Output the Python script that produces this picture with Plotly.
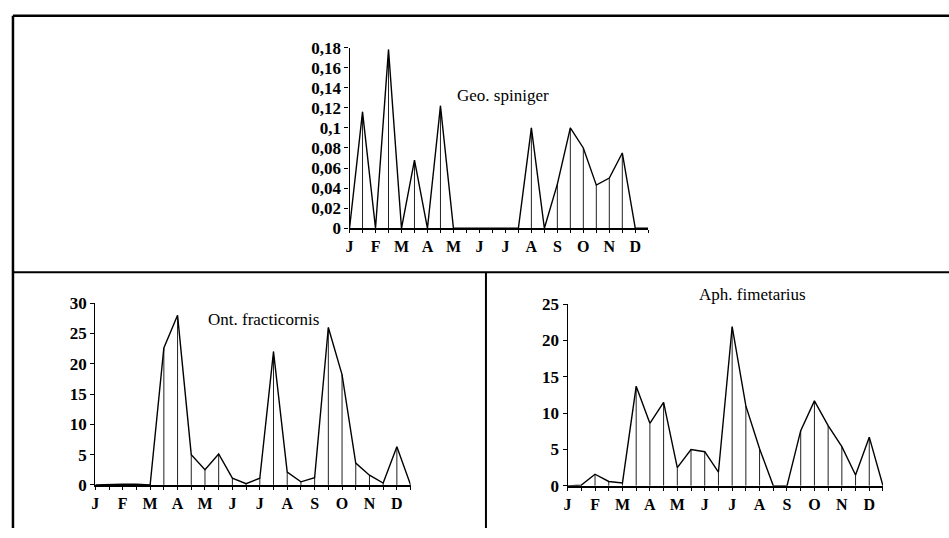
import plotly.graph_objects as go

# ---- data (24 half-month samples, Jan..Dec) ----
idx = list(range(24))
month_labels = ["J", "F", "M", "A", "M", "J", "J", "A", "S", "O", "N", "D"]
month_pos = list(range(0, 24, 2))

geo_spiniger = [0, 0.116, 0, 0.178, 0, 0.068, 0, 0.122, 0, 0, 0, 0,
                0, 0, 0.1, 0, 0.044, 0.1, 0.08, 0.043, 0.05, 0.075, 0, 0]
ont_fracticornis = [0, 0.1, 0.1, 0.1, 0, 22.6, 28, 5, 2.5, 5.1, 1.1, 0.2,
                    1.1, 22, 2.1, 0.5, 1.2, 26, 18.2, 3.6, 1.6, 0.3, 6.3, 0]
aph_fimetarius = [0, 0.1, 1.6, 0.6, 0.4, 13.7, 8.6, 11.5, 2.5, 5, 4.7, 1.9,
                  21.9, 11, 5.1, 0, 0, 7.6, 11.7, 8.3, 5.4, 1.5, 6.7, 0]

geo_ticks = [0, 0.02, 0.04, 0.06, 0.08, 0.1, 0.12, 0.14, 0.16, 0.18]
geo_ticktext = ["0", "0,02", "0,04", "0,06", "0,08", "0,1", "0,12", "0,14", "0,16", "0,18"]
ont_ticks = [0, 5, 10, 15, 20, 25, 30]
aph_ticks = [0, 5, 10, 15, 20, 25]

titles = ["Geo. spiniger", "Ont. fracticornis", "Aph. fimetarius"]

W, H = 949, 538
FONT = "Liberation Serif"

def px(x):
    return x / W

def py(y):
    return 1 - y / H

fig = go.Figure()

panels = [
    # (series, yticks, yticktext, ymax, xdomain px, ydomain px, axis suffix)
    (geo_spiniger, geo_ticks, geo_ticktext, 0.18, (347, 647), (227.3, 40), ""),
    (ont_fracticornis, ont_ticks, [str(v) for v in ont_ticks], 30, (91.7, 408.3), (493.3, 305), "2"),
    (aph_fimetarius, aph_ticks, [str(v) for v in aph_ticks], 25, (566, 882.7), (494.3, 306), "3"),
]

for series, yt, ytt, ymax, xd, yd, sfx in panels:
    fig.add_trace(go.Scatter(
        x=idx, y=series, mode="lines",
        line=dict(color="black", width=1.4),
        error_y=dict(type="data", symmetric=False, array=[0] * len(series),
                     arrayminus=series, width=0, thickness=1, color="#222"),
        xaxis="x" + sfx, yaxis="y" + sfx, showlegend=False, hoverinfo="skip",
    ))
    xa = dict(
        domain=[px(xd[0]), px(xd[1])], range=[0, 23], anchor="y" + sfx,
        showgrid=False, zeroline=False, showline=True, linecolor="black", linewidth=1.5,
        tickmode="array", tickvals=month_pos, ticktext=month_labels,
        ticks="outside", ticklen=3, tickcolor="black",
        tickfont=dict(family=FONT, size=16, color="black", weight="bold"),
        minor=dict(tickmode="linear", tick0=0, dtick=1, ticks="outside", ticklen=3, tickcolor="black"),
        fixedrange=True,
    )
    ya = dict(
        domain=[py(yd[0]), py(yd[1])], range=[0, ymax], anchor="x" + sfx,
        showgrid=False, zeroline=False, showline=True, linecolor="black", linewidth=1.2,
        tickmode="array", tickvals=yt, ticktext=ytt,
        ticks="outside", ticklen=4, tickcolor="black",
        tickfont=dict(family=FONT, size=17, color="black", weight="bold"),
        fixedrange=True,
    )
    fig.layout["xaxis" + sfx] = xa
    fig.layout["yaxis" + sfx] = ya

# titles
title_pos = [(501, 90), (261, 322), (752, 296)]
for t, (tx, ty) in zip(titles, title_pos):
    fig.add_annotation(text=t, x=px(tx), y=py(ty), xref="paper", yref="paper",
                       showarrow=False, xanchor="center", yanchor="middle",
                       font=dict(family=FONT, size=17, color="black"))

# frame lines
frame = [
    (9, 7, 949, 7, 2.5),      # top
    (9, 7, 9, 538, 2.5),      # left
    (9, 273, 949, 273, 2),    # middle horizontal
    (484, 273, 484, 538, 2),  # middle vertical
]
for x0, y0, x1, y1, w in frame:
    fig.add_shape(type="line", xref="paper", yref="paper",
                  x0=px(x0), y0=py(y0), x1=px(x1), y1=py(y1),
                  line=dict(color="black", width=w))

fig.update_layout(
    width=W, height=H, margin=dict(l=0, r=0, t=0, b=0),
    paper_bgcolor="white", plot_bgcolor="white",
    font=dict(family=FONT, color="black"),
    showlegend=False,
)

fig.write_html("out.html", config={"displayModeBar": False},
               post_script="document.body.style.margin='0';document.body.style.overflow='hidden';")
